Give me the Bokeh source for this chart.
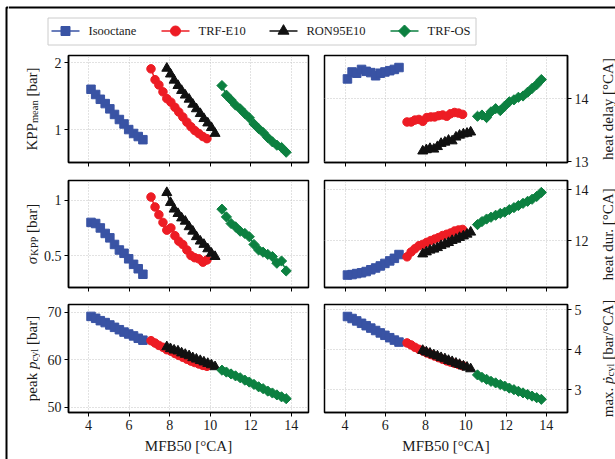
import math
from bokeh.plotting import figure
from bokeh.models import Range1d, FixedTicker, BasicTickFormatter
from bokeh.core.properties import value
from bokeh.layouts import row, column
from bokeh.embed import file_html
from bokeh.resources import INLINE

FONT = "Liberation Serif"

# ---------------- data ----------------
fuels = ["Isooctane", "TRF-E10", "RON95E10", "TRF-OS"]

x_iso = [4.12, 4.35, 4.58, 4.82, 5.05, 5.28, 5.52, 5.75, 5.98, 6.22, 6.45, 6.68]
x_e10 = [7.08, 7.28, 7.47, 7.67, 7.86, 8.06, 8.26, 8.45, 8.65, 8.85, 9.05, 9.24, 9.44, 9.64, 9.84]
x_ron = [7.86, 8.04, 8.22, 8.41, 8.59, 8.77, 8.96, 9.14, 9.32, 9.51, 9.69, 9.88, 10.06, 10.24]
x_os = [10.58, 10.80, 11.03, 11.25, 11.48, 11.71, 11.93, 12.16, 12.39, 12.61, 12.84, 13.07, 13.29, 13.52, 13.75]

kpp_iso = [1.52, 1.44, 1.37, 1.31, 1.24, 1.17, 1.11, 1.06, 1.00, 0.96, 0.93, 0.90]
kpp_e10 = [1.88, 1.68, 1.59, 1.48, 1.38, 1.33, 1.26, 1.20, 1.14, 1.08, 1.03, 0.99, 0.96, 0.93, 0.91]
kpp_ron = [1.89, 1.78, 1.67, 1.58, 1.50, 1.43, 1.37, 1.30, 1.24, 1.18, 1.12, 1.07, 1.02, 0.96]
kpp_os = [1.58, 1.43, 1.36, 1.29, 1.24, 1.18, 1.13, 1.06, 1.01, 0.97, 0.92, 0.88, 0.85, 0.83, 0.79]

hdel_iso = [14.31, 14.42, 14.40, 14.46, 14.43, 14.41, 14.36, 14.40, 14.42, 14.44, 14.46, 14.49]
hdel_e10 = [13.63, 13.63, 13.66, 13.67, 13.64, 13.70, 13.71, 13.71, 13.73, 13.74, 13.72, 13.76, 13.78, 13.77, 13.75]
hdel_ron = [13.17, 13.19, 13.21, 13.20, 13.24, 13.29, 13.31, 13.34, 13.33, 13.39, 13.42, 13.44, 13.45, 13.47]
hdel_os = [13.72, 13.74, 13.70, 13.79, 13.84, 13.81, 13.88, 13.95, 13.98, 14.02, 14.04, 14.10, 14.16, 14.22, 14.30]

sig_iso = [0.80, 0.79, 0.75, 0.70, 0.66, 0.60, 0.55, 0.52, 0.47, 0.42, 0.38, 0.33]
sig_e10 = [1.03, 0.94, 0.87, 0.80, 0.73, 0.75, 0.68, 0.63, 0.60, 0.55, 0.50, 0.48, 0.47, 0.44, 0.46]
sig_ron = [1.07, 0.98, 0.92, 0.88, 0.84, 0.81, 0.76, 0.72, 0.67, 0.63, 0.60, 0.56, 0.52, 0.49]
sig_os = [0.92, 0.85, 0.79, 0.76, 0.72, 0.70, 0.67, 0.60, 0.55, 0.53, 0.51, 0.49, 0.43, 0.45, 0.36]

hdur_iso = [10.64, 10.66, 10.70, 10.73, 10.78, 10.85, 10.92, 11.00, 11.10, 11.20, 11.30, 11.45]
hdur_e10 = [11.36, 11.55, 11.68, 11.80, 11.85, 11.93, 12.00, 12.06, 12.12, 12.20, 12.25, 12.30, 12.38, 12.42, 12.44]
hdur_ron = [11.47, 11.55, 11.62, 11.66, 11.72, 11.80, 11.86, 11.92, 12.00, 12.05, 12.12, 12.18, 12.25, 12.33]
hdur_os = [12.63, 12.75, 12.85, 12.92, 13.00, 13.07, 13.12, 13.22, 13.30, 13.38, 13.47, 13.55, 13.63, 13.74, 13.90]

peak_iso = [69.1, 68.7, 68.2, 67.8, 67.3, 66.8, 66.3, 65.8, 65.4, 65.0, 64.5, 64.1]
peak_e10 = [64.0, 63.5, 63.0, 62.6, 62.1, 61.8, 61.3, 60.9, 60.5, 60.1, 59.7, 59.4, 59.1, 58.8, 58.6]
peak_ron = [62.7, 62.3, 62.0, 61.8, 61.4, 61.1, 60.8, 60.4, 60.1, 59.8, 59.5, 59.2, 58.9, 58.5]
peak_os = [57.8, 57.4, 57.0, 56.6, 56.2, 55.7, 55.3, 54.8, 54.3, 53.9, 53.4, 53.0, 52.6, 52.2, 51.8]

dp_iso = [4.83, 4.78, 4.72, 4.66, 4.60, 4.54, 4.48, 4.42, 4.36, 4.30, 4.24, 4.19]
dp_e10 = [4.17, 4.12, 4.06, 4.01, 3.97, 3.92, 3.88, 3.84, 3.80, 3.76, 3.72, 3.69, 3.66, 3.63, 3.60]
dp_ron = [3.98, 3.94, 3.91, 3.87, 3.84, 3.80, 3.77, 3.73, 3.70, 3.66, 3.63, 3.59, 3.56, 3.52]
dp_os = [3.37, 3.31, 3.26, 3.21, 3.17, 3.13, 3.09, 3.04, 3.00, 2.96, 2.92, 2.88, 2.84, 2.80, 2.76]

x_ticks = [4, 6, 8, 10, 12, 14]
x_label = "MFB50 [°CA]"

# ---------------- styles ----------------
colors = ["#3953a4", "#ed1c24", "#111111", "#0c8040"]
markers = ["square", "circle", "triangle", "square"]
msizes = [8.5, 8.5, 10, 7.2]
leg_sizes = [9, 10, 11, 8.5]
mangles = [0, 0, 0, math.pi / 4]
xs_all = [x_iso, x_e10, x_ron, x_os]
TXT = "#1a1a1a"

CW = {" ": .25, "[": .333, "]": .333, ".": .25, "/": .278, "°": .4, "σ": .55, "ṗ": .5,
      "a": .444, "b": .5, "c": .444, "d": .5, "e": .444, "h": .5, "k": .5, "l": .278,
      "m": .778, "n": .5, "p": .5, "r": .333, "t": .278, "u": .5, "x": .5, "y": .5,
      "K": .722, "P": .556, "C": .667, "A": .722}


def tw(s, size):
    return sum(CW.get(ch, .5) for ch in s) * size


def bare(width, height, xr, yr):
    p = figure(width=width, height=height, x_range=xr, y_range=yr,
               x_axis_location=None, y_axis_location=None, toolbar_location=None,
               output_backend="svg", min_border=0)
    p.grid.visible = False
    p.outline_line_color = None
    return p


def label_fig(x0, x1, xbase, rows):
    # page-pixel coordinates: x from x0..x1, y from 459 (bottom) .. 50 (top)
    p = bare(x1 - x0, 409, Range1d(x0, x1), Range1d(459, 50))
    for cy, pieces in rows:
        total = sum(tw(t, sz) for t, sz, st, sub in pieces)
        y = cy + total / 2
        for t, sz, st, sub in pieces:
            lead = (len(t) - len(t.lstrip(" "))) * CW[" "] * sz
            p.text(x=[xbase + (2.5 if sub else 0)], y=[y - lead], text=[t.strip(" ")],
                   angle=math.pi / 2, text_font=value(FONT), text_font_size=value(f"{sz}px"),
                   text_font_style=value(st), text_align="left", text_baseline="alphabetic",
                   text_color=TXT)
            y -= tw(t, sz)
    return p


def panel(is_left, fh, top, bottom, yr, yticks, ys, show_x, ylog=False):
    xr = Range1d(3.01, 14.85) if is_left else Range1d(2.98, 15.05)
    p = figure(frame_width=240 if is_left else 243, frame_height=fh,
               x_range=xr, y_range=yr, y_axis_type="log" if ylog else "linear",
               y_axis_location="left" if is_left else "right",
               toolbar_location=None, output_backend="svg",
               min_border_left=26 if is_left else 8, min_border_right=8 if is_left else 24,
               min_border_top=top, min_border_bottom=bottom)
    p.outline_line_color = "black"
    p.outline_line_width = 1.5
    p.outline_line_alpha = 1
    p.xaxis.ticker = FixedTicker(ticks=x_ticks)
    p.yaxis.ticker = FixedTicker(ticks=yticks)
    if ylog:
        p.yaxis.formatter = BasicTickFormatter()
    for ax in p.axis:
        ax.axis_line_color = "black"
        ax.axis_line_width = 1.5
        ax.major_tick_line_color = "black"
        ax.major_tick_line_width = 1
        ax.major_tick_out = 4
        ax.major_tick_in = 0
        ax.minor_tick_line_color = None
        ax.major_label_text_font = FONT
        ax.major_label_text_font_size = "14px"
        ax.major_label_text_color = TXT
        ax.major_label_standoff = 3
    if show_x:
        p.xaxis.axis_label = x_label
        p.xaxis.axis_label_text_font = FONT
        p.xaxis.axis_label_text_font_size = "15px"
        p.xaxis.axis_label_text_font_style = "normal"
        p.xaxis.axis_label_text_color = TXT
        p.xaxis.axis_label_standoff = 5
    else:
        p.xaxis.major_label_text_font_size = "1px"
        p.xaxis.major_label_text_color = None
        p.xaxis.major_label_standoff = 0
    p.grid.grid_line_color = "#c4c4c4"
    p.grid.grid_line_dash = "1 2"
    p.grid.grid_line_width = 1
    for i in range(4):
        p.line(xs_all[i], ys[i], line_color=colors[i], line_width=1.5)
        p.scatter(xs_all[i], ys[i], marker=markers[i], size=msizes[i], angle=mangles[i],
                  fill_color=colors[i], line_color=colors[i])
    return p


# panels
p11 = panel(True, 107, 5, 9, Range1d(0.71, 2.16), [1, 2], [kpp_iso, kpp_e10, kpp_ron, kpp_os], False, ylog=True)
p12 = panel(False, 107, 5, 9, Range1d(12.99, 14.68), [13, 14], [hdel_iso, hdel_e10, hdel_ron, hdel_os], False)
p21 = panel(True, 107, 9, 8, Range1d(0.21, 1.18), [0.5, 1.0], [sig_iso, sig_e10, sig_ron, sig_os], False)
p22 = panel(False, 107, 9, 8, Range1d(10.15, 14.37), [12, 14], [hdur_iso, hdur_e10, hdur_ron, hdur_os], False)
p31 = panel(True, 108, 9, 47, Range1d(48.9, 71.6), [50, 60, 70], [peak_iso, peak_e10, peak_ron, peak_os], True)
p32 = panel(False, 108, 9, 47, Range1d(2.43, 5.13), [3, 4, 5], [dp_iso, dp_e10, dp_ron, dp_os], True)

# y-axis labels (with subscripts) in their own strips
S, SS = 15, 10.5
labL = label_fig(8, 40, 31.7, [
    (108.5, [("KPP", S, "normal", False), ("mean", SS, "normal", True), (" [bar]", S, "normal", False)]),
    (233.5, [("σ", S, "italic", False), ("KPP", SS, "normal", True), (" [bar]", S, "normal", False)]),
    (358.0, [("peak ", S, "normal", False), ("p", S, "italic", False), ("cyl", SS, "normal", True),
             (" [bar]", S, "normal", False)]),
])
labR = label_fig(589, 615, 605, [
    (108.5, [("heat delay [°CA]", S, "normal", False)]),
    (233.5, [("heat dur. [°CA]", S, "normal", False)]),
    (358.0, [("max. ", S, "normal", False), ("ṗ", S, "italic", False), ("cyl", SS, "normal", True),
             (" [bar/°CA]", S, "normal", False)]),
])

# legend strip in page-pixel coordinates (with the top frame line)
pl = bare(607, 50, Range1d(8, 615), Range1d(50, 0))
pl.line([8, 615], [7, 7], line_color="black", line_width=2)
pl.quad(left=[47.5], right=[475.5], top=[17.5], bottom=[44.5], fill_color="white",
        line_color="#cccccc", line_width=1)
glyph_x0 = [51, 161, 269, 390]
label_x0 = [88, 198, 306, 427]
LY = 30.5
for i in range(4):
    pl.line([glyph_x0[i], glyph_x0[i] + 28], [LY, LY], line_color=colors[i], line_width=1.5)
    pl.scatter([glyph_x0[i] + 14], [LY], marker=markers[i], size=leg_sizes[i], angle=mangles[i],
               fill_color=colors[i], line_color=colors[i])
    pl.text([label_x0[i]], [LY], text=[fuels[i]], text_font=value(FONT), text_font_size=value("12.5px"),
            text_align="left", text_baseline="middle", text_color=TXT)

# left frame line strip
pb = bare(8, 459, Range1d(0, 8), Range1d(0, 459))
pb.line([6, 6, 8], [0, 452, 452], line_color="black", line_width=2)

grid = row(labL, column(p11, p21, p31), column(p12, p22, p32), labR)
layout = row(pb, column(pl, grid))
open("out.html", "w").write(file_html(layout, INLINE))
